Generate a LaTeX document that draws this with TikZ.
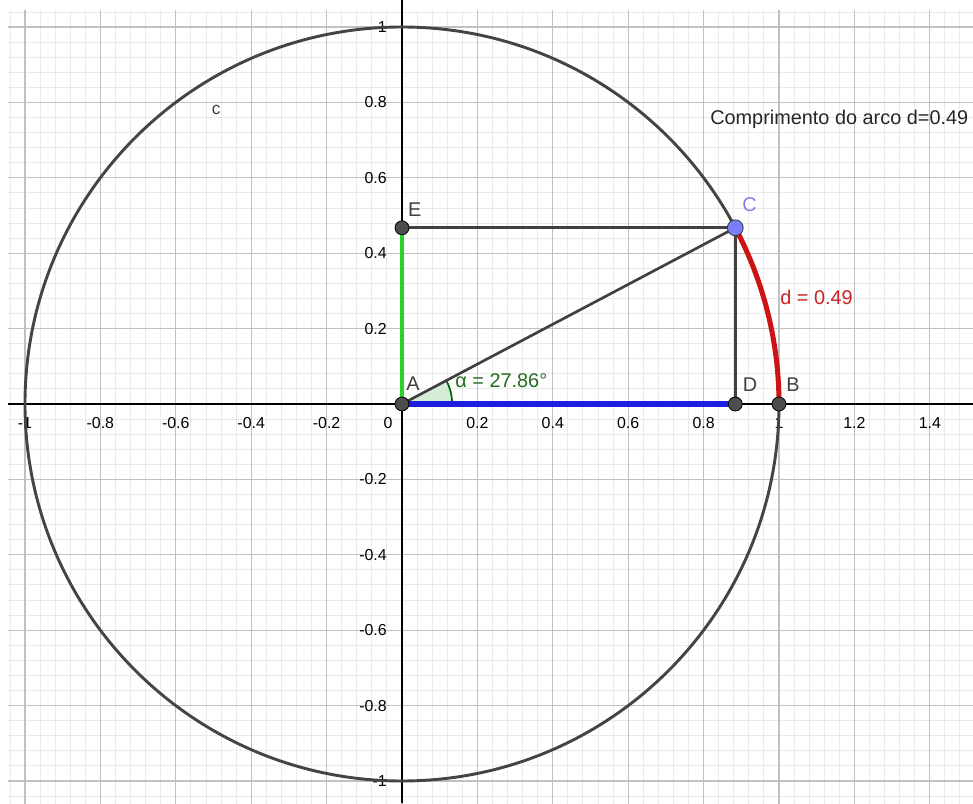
\documentclass[tikz,border=0pt]{standalone}
\usepackage{fontspec}
\setmainfont{Liberation Sans}
\definecolor{minorgrid}{RGB}{234,234,234}
\definecolor{majorgrid}{RGB}{192,192,192}
\definecolor{circgray}{RGB}{68,68,68}
\definecolor{seggray}{RGB}{64,64,64}
\definecolor{ptgray}{RGB}{77,77,77}
\definecolor{labgray}{RGB}{64,64,64}
\definecolor{seggreen}{RGB}{40,210,40}
\definecolor{segblue}{RGB}{30,30,225}
\definecolor{arcred}{RGB}{205,20,20}
\definecolor{anglefill}{RGB}{205,232,205}
\definecolor{angleline}{RGB}{0,100,0}
\definecolor{alphatext}{RGB}{35,110,35}
\definecolor{dtext}{RGB}{200,35,35}
\definecolor{ptblue}{RGB}{125,125,250}
\definecolor{cblue}{RGB}{128,128,225}
\begin{document}
\begin{tikzpicture}[x=10cm,y=10cm,
  minor/.style={draw=minorgrid, line width=0.7pt},
  major/.style={draw=majorgrid, line width=0.9pt},
  axisline/.style={draw=black, line width=0.9pt},
  segline/.style={draw=seggray, line width=2pt},
  ptnode/.style={circle, draw=black, line width=0.6pt, fill=ptgray, minimum size=0.37cm, inner sep=0pt},
  lbl/.style={font=\fontsize{15}{18}\selectfont, text=labgray, inner sep=0pt},
  ticklbl/.style={font=\fontsize{12}{14}\selectfont, text=black, inner sep=0pt}]
\useasboundingbox (-1.0663,-1.0584) rectangle (1.5146,1.0716);
\fill[white] (-1.0663,-1.0584) rectangle (1.5146,1.0716);
% grid
\begin{scope}
\clip (-1.045,-1.0584) rectangle (1.5146,1.045);
\foreach \i in {-27,...,38} \draw[minor] (\i*0.04,-1.1) -- (\i*0.04,1.1);
\foreach \j in {-27,...,27} \draw[minor] (-1.1,\j*0.04) -- (1.6,\j*0.04);
\foreach \i in {-5,...,7} \draw[major] (\i*0.2,-1.1) -- (\i*0.2,1.1);
\foreach \j in {-5,...,5} \draw[major] (-1.1,\j*0.2) -- (1.6,\j*0.2);
\end{scope}
% axes
\draw[axisline] (-1.045,0) -- (1.5146,0);
\draw[axisline] (0,-1.0584) -- (0,1.0716);
% tick labels
\foreach \v/\t in {-1/-1,-0.8/-0.8,-0.6/-0.6,-0.4/-0.4,-0.2/-0.2,0.2/0.2,0.4/0.4,0.6/0.6,0.8/0.8,1/1,1.2/1.2,1.4/1.4}
  \node[ticklbl] (xt\t) at (\v,-0.05) {\t};
\node[ticklbl] (zero) at (-0.037,-0.05) {0};
\foreach \v/\t in {-1/-1,-0.8/-0.8,-0.6/-0.6,-0.4/-0.4,-0.2/-0.2,0.2/0.2,0.4/0.4,0.6/0.6,0.8/0.8,1/1}
  \node[ticklbl, anchor=east] (yt\t) at (-0.04,\v) {\t};
% points
\coordinate (O) at (0,0);
\coordinate (Cp) at (0.88408,0.46736);
% circle c
\draw[draw=circgray, line width=2.2pt] (O) circle (1);
% angle
\fill[anglefill, opacity=0.8] (O) -- (0.133,0) arc (0:27.86:0.133) -- cycle;
\draw[angleline, line width=1.3pt] (0.133,0) arc (0:27.86:0.133);
% segments
\draw[segline] (0,0.46736) -- (Cp);
\draw[segline] (O) -- (Cp);
\draw[segline] (Cp) -- (0.88408,0);
\draw[draw=seggreen, line width=3pt] (O) -- (0,0.46736);
\draw[draw=segblue, line width=3.8pt] (O) -- (0.88408,0);
% arc d
\draw[draw=arcred, line width=3.8pt] (1,0) arc (0:27.86:1);
% point nodes
\node[ptnode] (A) at (O) {};
\node[ptnode] (E) at (0,0.46736) {};
\node[ptnode] (D) at (0.88408,0) {};
\node[ptnode] (B) at (1,0) {};
\node[ptnode, fill=ptblue, draw=black!80, minimum size=0.42cm] (C) at (Cp) {};
% labels
\node[lbl] (lA) at (0.029,0.053) {A};
\node[lbl] (lE) at (0.034,0.515) {E};
\node[lbl, text=cblue] (lC) at (0.922,0.530) {C};
\node[lbl] (lD) at (0.923,0.050) {D};
\node[lbl] (lB) at (1.037,0.050) {B};
\node[lbl, anchor=west, text=alphatext] (lalpha) at (0.141,0.061) {α = 27.86°};
\node[lbl, anchor=west, text=dtext] (ld) at (1.003,0.284) {d = 0.49};
\node[lbl, font=\fontsize{13}{15}\selectfont] (lc) at (-0.493,0.780) {c};
\node[lbl, anchor=west, text=black!85] (ltxt) at (0.817,0.756) {Comprimento do arco d=0.49};
\end{tikzpicture}
\end{document}
